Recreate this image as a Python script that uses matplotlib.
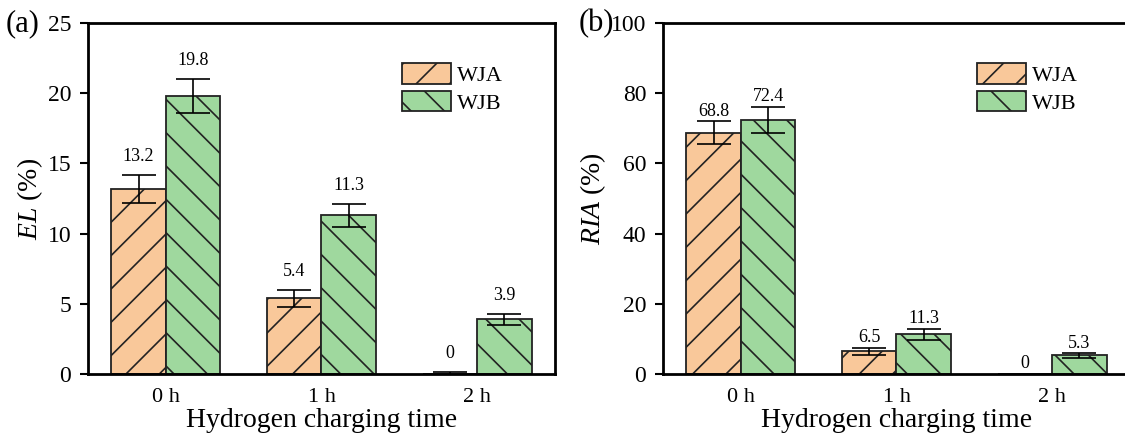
import numpy as np
import matplotlib
matplotlib.use("Agg")
import matplotlib.pyplot as plt

plt.rcParams["font.family"] = ["Liberation Serif", "DejaVu Serif"]
plt.rcParams["mathtext.fontset"] = "custom"
plt.rcParams["mathtext.rm"] = "Liberation Serif"
plt.rcParams["mathtext.it"] = "Liberation Serif:italic"
plt.rcParams["hatch.linewidth"] = 1.2

times = ["0 h", "1 h", "2 h"]
series = ["WJA", "WJB"]

el_wja = [13.2, 5.4, 0]
el_wjb = [19.8, 11.3, 3.9]
el_wja_err = [1.0, 0.6, 0.15]
el_wjb_err = [1.2, 0.8, 0.4]

ria_wja = [68.8, 6.5, 0]
ria_wjb = [72.4, 11.3, 5.3]
ria_wja_err = [3.2, 1.0, 0]
ria_wjb_err = [3.8, 1.6, 0.6]

orange = "#F9C89A"
green = "#9FD89E"
edge = "#222222"

fig = plt.figure(figsize=(11.25, 4.4), dpi=100)
ax1 = fig.add_axes([0.0782, 0.15, 0.4151, 0.7977])
ax2 = fig.add_axes([0.5893, 0.15, 0.4151, 0.7977])


def draw(ax, a, b, ea, eb, ylim, yticks, ylabel, pad):
    x = np.arange(len(times))
    w = 0.35
    ax.bar(x - w / 2, a, w, color=orange, edgecolor=edge, linewidth=1.3,
           hatch="/", label=series[0])
    ax.bar(x + w / 2, b, w, color=green, edgecolor=edge, linewidth=1.3,
           hatch="\\", label=series[1])
    for xs, vals, errs in [(x - w / 2, a, ea), (x + w / 2, b, eb)]:
        for xi, v, e in zip(xs, vals, errs):
            if e > 0:
                ax.errorbar(xi, v, yerr=e, color="black", capsize=12,
                            elinewidth=1.2, capthick=1.2)
            ax.text(xi, v + e + pad, f"{v:g}", ha="center", va="bottom",
                    fontsize=13)
    ax.set_xlim(-0.5, 2.5)
    ax.set_ylim(*ylim)
    ax.set_yticks(yticks)
    ax.set_xticks(x)
    ax.set_xticklabels(times)
    ax.tick_params(axis="x", length=0, labelsize=16, pad=10)
    ax.tick_params(axis="y", length=6, width=1.5, labelsize=17, pad=6,
                   direction="out")
    for s in ax.spines.values():
        s.set_linewidth(2)
    ax.set_xlabel("Hydrogen charging time", fontsize=20, labelpad=1)
    ax.set_ylabel(ylabel, fontsize=20, labelpad=2)
    ax.legend(loc="upper left", bbox_to_anchor=(0.653, 0.91), frameon=False,
              fontsize=16, handlelength=2.2, handleheight=1.05,
              handletextpad=0.3, labelspacing=0.2, borderaxespad=0)


draw(ax1, el_wja, el_wjb, el_wja_err, el_wjb_err, (0, 25),
     [0, 5, 10, 15, 20, 25], r"$\mathit{EL}$ (%)", 0.7)
draw(ax2, ria_wja, ria_wjb, ria_wja_err, ria_wjb_err, (0, 100),
     [0, 20, 40, 60, 80, 100], r"$\mathit{RIA}$ (%)", 0.5)

fig.text(0.005, 0.98, "(a)", fontsize=22, va="top", ha="left")
fig.text(0.514, 0.98, "(b)", fontsize=22, va="top", ha="left")

fig.savefig("out.png", dpi=100)
